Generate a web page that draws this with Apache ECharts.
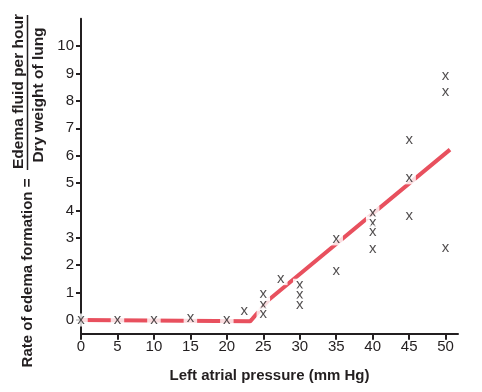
<!DOCTYPE html>
<html><head><meta charset="utf-8">
<script src="https://cdn.jsdelivr.net/npm/echarts@6/dist/echarts.min.js"></script>
<style>html,body{margin:0;padding:0;background:#fff}#c{width:482px;height:392px}</style>
</head><body><div id="c"></div>
<script>
var xTicks = [0, 5, 10, 15, 20, 25, 30, 35, 40, 45, 50];
var yTicks = [0, 1, 2, 3, 4, 5, 6, 7, 8, 9, 10];
var pointX = [0, 5, 10, 15, 20, 22.4, 25, 25, 25, 27.4, 30, 30, 30, 35, 35, 40, 40, 40, 40, 45, 45, 45, 50, 50, 50];
var pointY = [0, 0, 0, 0.07, 0, 0.33, 0.94, 0.57, 0.22, 1.51, 1.27, 0.92, 0.55, 2.96, 1.80, 3.92, 3.55, 3.22, 2.59, 6.59, 5.19, 3.81, 8.92, 8.33, 2.64];
var fitX = [0, 23.2, 25.8, 50.6];
var fitY = [0, -0.05, 0.75, 6.22];
var xTitle = 'Left atrial pressure (mm Hg)';
var yTitleLeft = 'Rate of edema formation =';
var yTitleNum = 'Edema fluid per hour';
var yTitleDen = 'Dry weight of lung';

var ink = '#231f20';
var font = '"Liberation Sans", Arial, sans-serif';
var chart = echarts.init(document.getElementById('c'));
chart.setOption({
  animation: false,
  grid: {left: 81, right: 24, top: 18.7, bottom: 58.3},
  xAxis: {
    type: 'value', min: 0, max: 51.7,
    splitLine: {show: false},
    axisLine: {onZero: false, lineStyle: {color: ink, width: 2}},
    axisTick: {customValues: xTicks, length: 6, lineStyle: {color: ink, width: 2}},
    axisLabel: {customValues: xTicks, color: ink, fontSize: 15, fontFamily: font, margin: 6},
    name: xTitle, nameLocation: 'middle', nameGap: 35,
    nameTextStyle: {color: ink, fontSize: 15, fontWeight: 'bold', fontFamily: font}
  },
  yAxis: {
    type: 'value', min: -0.5, max: 11,
    splitLine: {show: false},
    axisLine: {onZero: false, lineStyle: {color: ink, width: 2}},
    axisTick: {customValues: yTicks, length: 5, lineStyle: {color: ink, width: 2}},
    axisLabel: {customValues: yTicks, color: ink, fontSize: 15, fontFamily: font, margin: 7}
  },
  graphic: [
    {type: 'text', x: 27.5, y: 273, rotation: Math.PI / 2,
     style: {text: yTitleLeft, font: 'bold 15px ' + font, fill: ink, align: 'center', verticalAlign: 'middle'}},
    {type: 'text', x: 18.5, y: 91.5, rotation: Math.PI / 2,
     style: {text: yTitleNum, font: 'bold 15.5px ' + font, fill: ink, align: 'center', verticalAlign: 'middle'}},
    {type: 'text', x: 39, y: 95, rotation: Math.PI / 2,
     style: {text: yTitleDen, font: 'bold 15.5px ' + font, fill: ink, align: 'center', verticalAlign: 'middle'}},
    {type: 'line', shape: {x1: 27.5, y1: 15, x2: 27.5, y2: 170}, style: {stroke: ink, lineWidth: 1.5}}
  ],
  series: [
    {
      type: 'line', data: fitX.map(function (v, i) { return [v, fitY[i]]; }),
      symbol: 'none', z: 2,
      lineStyle: {color: '#e8505e', width: 4}
    },
    {
      type: 'scatter', data: pointX.map(function (v, i) { return [v, pointY[i]]; }),
      symbol: 'circle', symbolSize: 1, z: 5,
      itemStyle: {color: 'rgba(0,0,0,0)'},
      label: {show: true, position: 'inside', formatter: 'x', color: ink, fontSize: 15, fontFamily: font,
              backgroundColor: '#fff', padding: [0, 3, 1, 3], lineHeight: 12}
    }
  ]
});
</script>
</body></html>
